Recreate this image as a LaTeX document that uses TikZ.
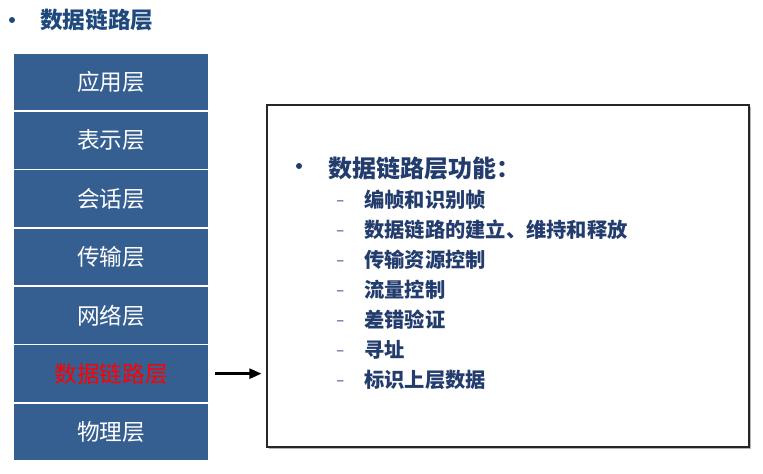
\documentclass[tikz,border=0pt]{standalone}
\usepackage{fontspec}
\setmainfont{Noto Sans CJK SC}
\usetikzlibrary{arrows.meta, shadows}
\definecolor{layerblue}{RGB}{54,95,145}
\definecolor{titleblue}{RGB}{31,73,125}
\definecolor{textblue}{RGB}{35,60,110}
\tikzset{
  layer node/.style={
    fill=layerblue,
    text=white,
    minimum width=145.5pt,
    minimum height=42.4pt,
    font=\fontsize{17}{20}\selectfont,
  },
  dot node/.style={
    circle,
    fill=#1,
    inner sep=0pt,
    minimum size=4.5pt,
  },
  item node/.style={
    anchor=west,
    inner sep=0pt,
    text=textblue,
    font=\bfseries\fontsize{15.2}{18}\selectfont,
  },
  dash node/.style={
    anchor=west,
    inner sep=0pt,
    text=textblue,
    font=\fontsize{11}{13}\selectfont,
  },
}

\begin{document}
\begin{tikzpicture}[x=0.75pt, y=-0.75pt]
        \useasboundingbox (0,0) rectangle (763,474);

        \node[dot node=titleblue] (tdot) at (12,20) {};
        \node[anchor=west, inner sep=0pt, text=titleblue, font=\bfseries\fontsize{17}{20}\selectfont] (title) at (40,20) {数据链路层};

        \node[layer node] (app)   at (111, 82.15) {应用层};
        \node[layer node] (pres)  at (111,140.45) {表示层};
        \node[layer node] (sess)  at (111,198.75) {会话层};
        \node[layer node] (trans) at (111,257.05) {传输层};
        \node[layer node] (net)   at (111,315.35) {网络层};
        \node[layer node, text=red] (link) at (111,373.65) {数据链路层};
        \node[layer node] (phys)  at (111,431.95) {物理层};

        \node[draw=black!85, line width=0.8pt, fill=white, minimum width=361.5pt, minimum height=256.5pt,
              drop shadow={shadow xshift=1.2pt, shadow yshift=-1.2pt, opacity=0.6, fill=black!50}] (func) at (508,276) {};

        \draw[line width=1.8pt, -{Triangle[length=9pt, width=7.5pt]}, shorten <=5.25pt, shorten >=3.75pt]
              (link.east) -- (link.east -| func.west);

        \node[dot node=textblue] (fdot) at (299,166) {};
        \node[item node, font=\bfseries\fontsize{18}{21}\selectfont] (head) at (328,168) {数据链路层功能：};

        \node[dash node] (d1) at (336,203) {–}; \node[item node] (i1) at (364,200) {编帧和识别帧};
        \node[dash node] (d2) at (336,233) {–}; \node[item node] (i2) at (364,230) {数据链路的建立、维持和释放};
        \node[dash node] (d3) at (336,263) {–}; \node[item node] (i3) at (364,260) {传输资源控制};
        \node[dash node] (d4) at (336,293) {–}; \node[item node] (i4) at (364,290) {流量控制};
        \node[dash node] (d5) at (336,323) {–}; \node[item node] (i5) at (364,320) {差错验证};
        \node[dash node] (d6) at (336,353) {–}; \node[item node] (i6) at (364,350) {寻址};
        \node[dash node] (d7) at (336,383) {–}; \node[item node] (i7) at (364,380) {标识上层数据};
      \end{tikzpicture}
\end{document}
